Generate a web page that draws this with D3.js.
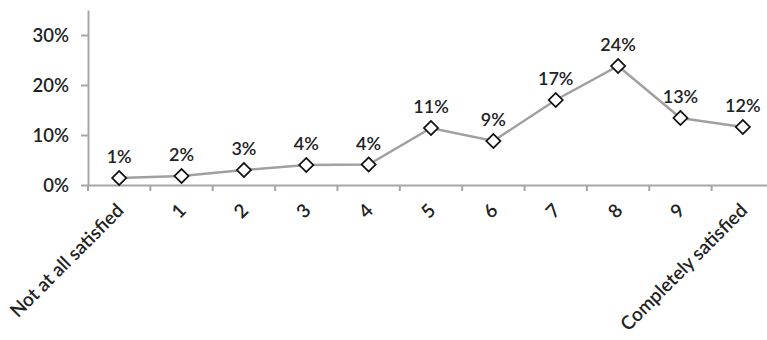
<!DOCTYPE html>
<html><head><meta charset="utf-8">
<script src="https://cdn.jsdelivr.net/npm/d3@7"></script>
<style>body{margin:0;background:#fff}svg{display:block}</style>
</head><body>
<script>
const categories = ["Not at all satisfied","1","2","3","4","5","6","7","8","9","Completely satisfied"];
const values = [1.4, 1.8, 3.0, 4.0, 4.1, 11.4, 8.8, 17.0, 23.8, 13.4, 11.6];
const valueLabels = ["1%","2%","3%","4%","4%","11%","9%","17%","24%","13%","12%"];
const yTicks = [0, 10, 20, 30];

const W = 767, H = 340;
const svg = d3.select("body").append("svg").attr("width", W).attr("height", H);
const font = "Lato, 'Open Sans', sans-serif";
const weight = 600;

const x = d3.scaleBand().domain(categories).range([88, 774]).paddingInner(0).paddingOuter(0);
const y = d3.scaleLinear().domain([0, 35]).range([185, 10]);

// y axis
const ya = svg.append("g").attr("transform", "translate(88,0)")
  .call(d3.axisLeft(y).tickValues(yTicks).tickFormat(d => d + "%").tickSize(7).tickSizeOuter(0));
ya.select(".domain").attr("stroke", "#a6a6a6").attr("stroke-width", 2);
ya.selectAll(".tick line").attr("stroke", "#a6a6a6").attr("stroke-width", 2);
ya.selectAll(".tick text").attr("font-family", font).attr("font-size", 18.5).attr("font-weight", weight)
  .attr("fill", "#222").attr("x", -19).attr("dy", "0.35em");

// x axis
const xa = svg.append("g").attr("transform", "translate(0,185)")
  .call(d3.axisBottom(x).tickSize(0).tickSizeOuter(0));
xa.select(".domain").attr("stroke", "#a6a6a6").attr("stroke-width", 2);
xa.selectAll(".tick line").remove();
const bounds = categories.map(c => x(c)).concat([x.range()[1]]);
xa.selectAll(".bnd").data(bounds).enter().append("line")
  .attr("x1", d => d).attr("x2", d => d).attr("y1", 0).attr("y2", 6)
  .attr("stroke", "#a6a6a6").attr("stroke-width", 2);
xa.selectAll(".tick text")
  .attr("font-family", font).attr("font-size", 19).attr("font-weight", weight).attr("fill", "#222")
  .attr("text-anchor", "end").attr("dy", "0.35em")
  .attr("transform", "translate(1,22) rotate(-45)").attr("y", 0).attr("x", 0);

const cx = d => x(d) + x.bandwidth() / 2;

// line
svg.append("path").datum(values.map((v, i) => [cx(categories[i]), y(v)]))
  .attr("d", d3.line()).attr("fill", "none").attr("stroke", "#a0a0a0").attr("stroke-width", 2.5);

// markers
const sym = d3.symbol().type(d3.symbolSquare).size(100);
svg.selectAll(".mk").data(values).enter().append("path")
  .attr("d", sym)
  .attr("transform", (d, i) => `translate(${cx(categories[i])},${y(d)}) rotate(45)`)
  .attr("fill", "#fff").attr("stroke", "#111").attr("stroke-width", 1.7);

// data labels
svg.selectAll(".lbl").data(values).enter().append("text")
  .attr("x", (d, i) => cx(categories[i])).attr("y", d => y(d) - 15)
  .attr("text-anchor", "middle").attr("font-family", font).attr("font-size", 18).attr("font-weight", weight)
  .attr("fill", "#222")
  .text((d, i) => valueLabels[i]);
</script>
</body></html>
